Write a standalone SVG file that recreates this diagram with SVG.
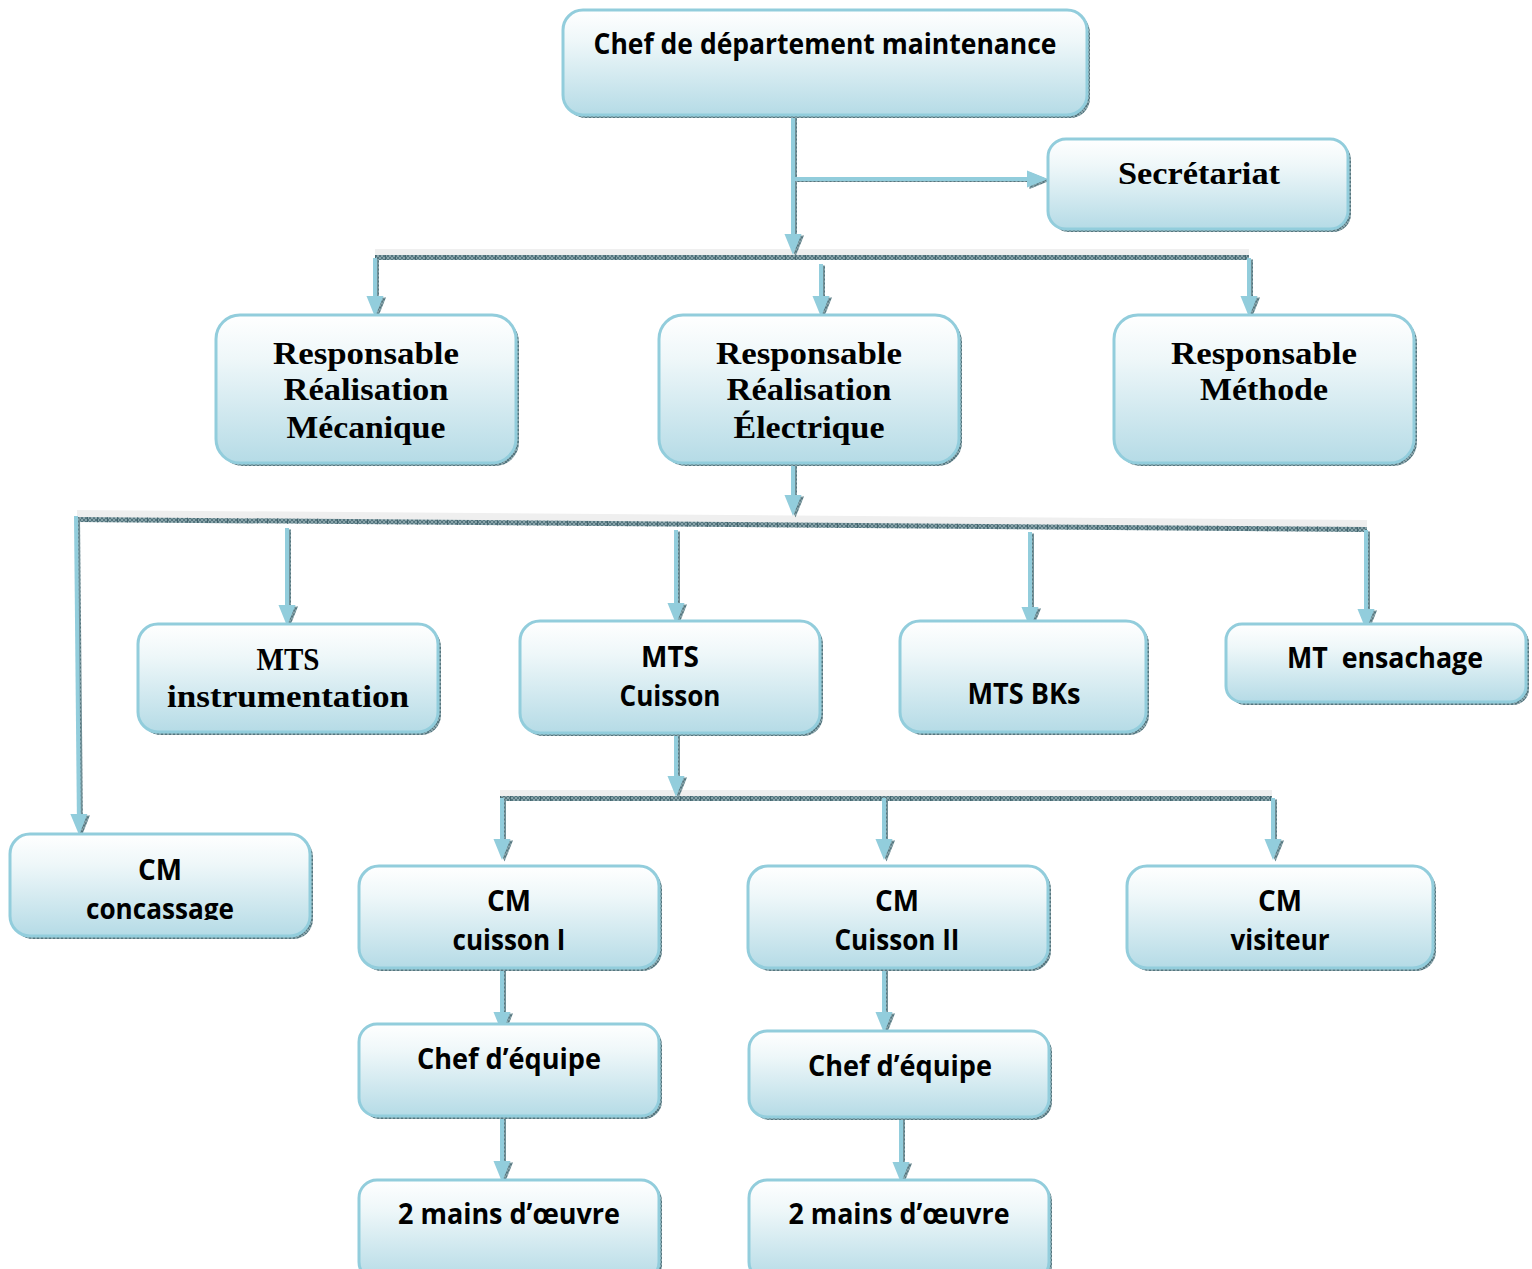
<svg xmlns="http://www.w3.org/2000/svg" width="1532" height="1269" viewBox="0 0 1532 1269">
  <style>
    .box { fill: url(#boxfill); stroke: #92cddc; stroke-width: 3; }
    .boxsh { fill: url(#hatch); }
    .sn { font-family: "Open Sans", "Liberation Sans", sans-serif; font-weight: 700; font-size: 28px; fill: #000; text-anchor: middle; }
    .sf { font-family: "Liberation Serif", "DejaVu Serif", serif; font-weight: 700; font-size: 31px; fill: #000; text-anchor: middle; }
    .ln { fill: none; stroke: #92cddc; stroke-width: 4; marker-end: url(#ah); }
    .lnsh { fill: none; stroke: url(#hatch); stroke-width: 3; marker-end: url(#ahsh); }
    .bar { fill: none; stroke: url(#hatch); stroke-width: 5; }
    .bartick { fill: none; stroke: #456770; stroke-width: 5; stroke-dasharray: 1 9; }
    .band { fill: #efefef; }
  </style>
  <defs>
    <linearGradient id="boxfill" x1="0" y1="0" x2="0" y2="1">
      <stop offset="0" stop-color="#ffffff"/>
      <stop offset="0.3" stop-color="#eef7f9"/>
      <stop offset="1" stop-color="#b5dbe6"/>
    </linearGradient>
    <pattern id="hatch" width="4" height="4" patternUnits="userSpaceOnUse">
      <rect width="4" height="4" fill="#8aa5ab"/>
      <path d="M0,0 L4,4 M4,0 L0,4" stroke="#4f717a" stroke-width="0.9"/>
    </pattern>
    <marker id="ah" markerUnits="userSpaceOnUse" markerWidth="22" markerHeight="18" refX="14" refY="8.5" orient="auto" overflow="visible">
      <path d="M0,0 L21,8.5 L0,17 z" fill="#92cddc"/>
    </marker>
    <marker id="ahsh" markerUnits="userSpaceOnUse" markerWidth="22" markerHeight="18" refX="14" refY="8.5" orient="auto" overflow="visible">
      <path d="M0,0 L21,8.5 L0,17 z" fill="url(#hatch)"/>
    </marker>
    <clipPath id="cutcmc">
      <rect x="0" y="830" width="330" height="90"/>
    </clipPath>
  </defs>

  <rect width="1532" height="1269" fill="#ffffff"/>

  <!-- connectors -->
  <g id="connectors">
    <!-- distribution bars -->
    <rect class="band" x="375" y="249" width="874" height="6"/>
    <path class="bar" d="M375,257.5 H1249"/>
    <path class="bartick" d="M375,257.5 H1249"/>
    <polygon class="band" points="77,510 1367,520 1367,527 77,517"/>
    <path class="bar" d="M77,519.5 L1367,529.5"/>
    <path class="bartick" d="M77,519.5 L1367,529.5"/>
    <rect class="band" x="500" y="790" width="772" height="6"/>
    <path class="bar" d="M500,798.5 H1272"/>
    <path class="bartick" d="M500,798.5 H1272"/>

    <!-- hatched shadows of the arrows -->
    <g transform="translate(2.5,1.5)">
      <path class="lnsh" d="M793,115 V248"/>
      <path class="lnsh" d="M793,179 H1041"/>
      <path class="lnsh" d="M375,258 V310"/>
      <path class="lnsh" d="M821,264 V310"/>
      <path class="lnsh" d="M1249,258 V310"/>
      <path class="lnsh" d="M793,455 V509"/>
      <path class="lnsh" d="M76,516 L79,828"/>
      <path class="lnsh" d="M287,528 V619"/>
      <path class="lnsh" d="M676,530 V617"/>
      <path class="lnsh" d="M1030,532 V621"/>
      <path class="lnsh" d="M1366,530 V623"/>
      <path class="lnsh" d="M676,733 V790"/>
      <path class="lnsh" d="M502,798 V853"/>
      <path class="lnsh" d="M884,798 V853"/>
      <path class="lnsh" d="M1273,798 V853"/>
      <path class="lnsh" d="M502,968 V1026"/>
      <path class="lnsh" d="M502,1116 V1175"/>
      <path class="lnsh" d="M884,968 V1026"/>
      <path class="lnsh" d="M901,1117 V1176"/>
    </g>
    <!-- arrows -->
    <g>
      <path class="ln" d="M793,115 V248"/>
      <path class="ln" d="M793,179 H1041"/>
      <path class="ln" d="M375,258 V310"/>
      <path class="ln" d="M821,264 V310"/>
      <path class="ln" d="M1249,258 V310"/>
      <path class="ln" d="M793,455 V509"/>
      <path class="ln" d="M76,516 L79,828"/>
      <path class="ln" d="M287,528 V619"/>
      <path class="ln" d="M676,530 V617"/>
      <path class="ln" d="M1030,532 V621"/>
      <path class="ln" d="M1366,530 V623"/>
      <path class="ln" d="M676,733 V790"/>
      <path class="ln" d="M502,798 V853"/>
      <path class="ln" d="M884,798 V853"/>
      <path class="ln" d="M1273,798 V853"/>
      <path class="ln" d="M502,968 V1026"/>
      <path class="ln" d="M502,1116 V1175"/>
      <path class="ln" d="M884,968 V1026"/>
      <path class="ln" d="M901,1117 V1176"/>
    </g>
  </g>

  <!-- nodes -->
  <g id="n-chef">
    <rect class="boxsh" x="566" y="13" width="524" height="105" rx="20"/>
    <rect class="box" x="563" y="10" width="524" height="105" rx="20"/>
    <text class="sn" x="825" y="54" textLength="463" lengthAdjust="spacingAndGlyphs">Chef de département maintenance</text>
  </g>
  <g id="n-secretariat">
    <rect class="boxsh" x="1051" y="142" width="300" height="90" rx="18"/>
    <rect class="box" x="1048" y="139" width="300" height="90" rx="18"/>
    <text class="sf" x="1199" y="184" textLength="162" lengthAdjust="spacingAndGlyphs">Secrétariat</text>
  </g>
  <g id="n-resp-meca">
    <rect class="boxsh" x="219" y="318" width="300" height="148" rx="24"/>
    <rect class="box" x="216" y="315" width="300" height="148" rx="24"/>
    <text class="sf" x="366" y="364" textLength="186" lengthAdjust="spacingAndGlyphs">Responsable</text>
    <text class="sf" x="366" y="400" textLength="165" lengthAdjust="spacingAndGlyphs">Réalisation</text>
    <text class="sf" x="366" y="438" textLength="159" lengthAdjust="spacingAndGlyphs">Mécanique</text>
  </g>
  <g id="n-resp-elec">
    <rect class="boxsh" x="662" y="318" width="300" height="148" rx="24"/>
    <rect class="box" x="659" y="315" width="300" height="148" rx="24"/>
    <text class="sf" x="809" y="364" textLength="186" lengthAdjust="spacingAndGlyphs">Responsable</text>
    <text class="sf" x="809" y="400" textLength="165" lengthAdjust="spacingAndGlyphs">Réalisation</text>
    <text class="sf" x="809" y="438" textLength="151" lengthAdjust="spacingAndGlyphs">Électrique</text>
  </g>
  <g id="n-resp-methode">
    <rect class="boxsh" x="1117" y="318" width="300" height="148" rx="24"/>
    <rect class="box" x="1114" y="315" width="300" height="148" rx="24"/>
    <text class="sf" x="1264" y="364" textLength="186" lengthAdjust="spacingAndGlyphs">Responsable</text>
    <text class="sf" x="1264" y="400" textLength="128" lengthAdjust="spacingAndGlyphs">Méthode</text>
  </g>
  <g id="n-mts-instr">
    <rect class="boxsh" x="141" y="627" width="300" height="108" rx="20"/>
    <rect class="box" x="138" y="624" width="300" height="108" rx="20"/>
    <text class="sf" x="288" y="670" textLength="63" lengthAdjust="spacingAndGlyphs">MTS</text>
    <text class="sf" x="288" y="707" textLength="242" lengthAdjust="spacingAndGlyphs">instrumentation</text>
  </g>
  <g id="n-mts-cuisson">
    <rect class="boxsh" x="523" y="624" width="300" height="112" rx="20"/>
    <rect class="box" x="520" y="621" width="300" height="112" rx="20"/>
    <text class="sn" x="670" y="667" textLength="58" lengthAdjust="spacingAndGlyphs">MTS</text>
    <text class="sn" x="670" y="706" textLength="101" lengthAdjust="spacingAndGlyphs">Cuisson</text>
  </g>
  <g id="n-mts-bks">
    <rect class="boxsh" x="903" y="624" width="246" height="111" rx="20"/>
    <rect class="box" x="900" y="621" width="246" height="111" rx="20"/>
    <text class="sn" x="1024" y="704" textLength="113" lengthAdjust="spacingAndGlyphs">MTS BKs</text>
  </g>
  <g id="n-mt-ensachage">
    <rect class="boxsh" x="1229" y="627" width="300" height="78" rx="16"/>
    <rect class="box" x="1226" y="624" width="300" height="78" rx="16"/>
    <text class="sn" x="1385" y="668" textLength="196" lengthAdjust="spacingAndGlyphs" xml:space="preserve">MT  ensachage</text>
  </g>
  <g id="n-cm-concassage">
    <rect class="boxsh" x="13" y="837" width="300" height="102" rx="20"/>
    <rect class="box" x="10" y="834" width="300" height="102" rx="20"/>
    <text class="sn" x="160" y="880" textLength="44" lengthAdjust="spacingAndGlyphs">CM</text>
    <text class="sn" x="160" y="919" textLength="148" lengthAdjust="spacingAndGlyphs" clip-path="url(#cutcmc)">concassage</text>
  </g>
  <g id="n-cm-cuisson1">
    <rect class="boxsh" x="362" y="869" width="300" height="102" rx="20"/>
    <rect class="box" x="359" y="866" width="300" height="102" rx="20"/>
    <text class="sn" x="509" y="911" textLength="44" lengthAdjust="spacingAndGlyphs">CM</text>
    <text class="sn" x="509" y="950" textLength="113" lengthAdjust="spacingAndGlyphs">cuisson I</text>
  </g>
  <g id="n-cm-cuisson2">
    <rect class="boxsh" x="751" y="869" width="300" height="102" rx="20"/>
    <rect class="box" x="748" y="866" width="300" height="102" rx="20"/>
    <text class="sn" x="897" y="911" textLength="44" lengthAdjust="spacingAndGlyphs">CM</text>
    <text class="sn" x="897" y="950" textLength="125" lengthAdjust="spacingAndGlyphs">Cuisson II</text>
  </g>
  <g id="n-cm-visiteur">
    <rect class="boxsh" x="1130" y="869" width="306" height="102" rx="20"/>
    <rect class="box" x="1127" y="866" width="306" height="102" rx="20"/>
    <text class="sn" x="1280" y="911" textLength="44" lengthAdjust="spacingAndGlyphs">CM</text>
    <text class="sn" x="1280" y="950" textLength="99" lengthAdjust="spacingAndGlyphs">visiteur</text>
  </g>
  <g id="n-chef-equipe1">
    <rect class="boxsh" x="362" y="1027" width="300" height="92" rx="18"/>
    <rect class="box" x="359" y="1024" width="300" height="92" rx="18"/>
    <text class="sn" x="509" y="1069" textLength="184" lengthAdjust="spacingAndGlyphs">Chef d’équipe</text>
  </g>
  <g id="n-chef-equipe2">
    <rect class="boxsh" x="752" y="1034" width="300" height="86" rx="18"/>
    <rect class="box" x="749" y="1031" width="300" height="86" rx="18"/>
    <text class="sn" x="900" y="1076" textLength="184" lengthAdjust="spacingAndGlyphs">Chef d’équipe</text>
  </g>
  <g id="n-main-oeuvre1">
    <rect class="boxsh" x="362" y="1183" width="300" height="100" rx="18"/>
    <rect class="box" x="359" y="1180" width="300" height="100" rx="18"/>
    <text class="sn" x="509" y="1224" textLength="222" lengthAdjust="spacingAndGlyphs">2 mains d’œuvre</text>
  </g>
  <g id="n-main-oeuvre2">
    <rect class="boxsh" x="752" y="1183" width="300" height="100" rx="18"/>
    <rect class="box" x="749" y="1180" width="300" height="100" rx="18"/>
    <text class="sn" x="899" y="1224" textLength="221" lengthAdjust="spacingAndGlyphs">2 mains d’œuvre</text>
  </g>
</svg>
